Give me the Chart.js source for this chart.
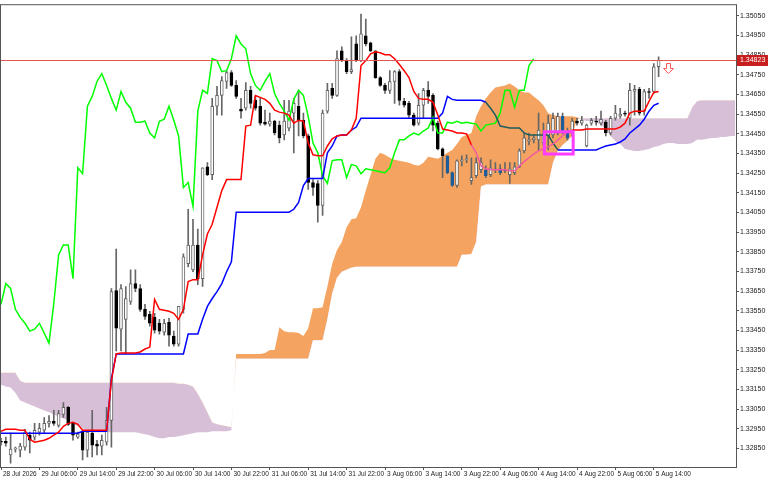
<!DOCTYPE html>
<html>
<head>
<meta charset="utf-8">
<title>H1 Ichimoku</title>
<script src="https://cdn.jsdelivr.net/npm/chart.js@4.4.1/dist/chart.umd.min.js"></script>
<style>
  html, body { margin: 0; padding: 0; background: #fff; }
  #wrap { width: 768px; height: 480px; }
</style>
</head>
<body>
<div id="wrap"><canvas id="ichimokuChart" width="768" height="480"></canvas></div>
<script>
// hourly bars, 28 Jul 22:00 -> 5 Aug 15:00 (bar index = x value)
const opens = [
  1.32886, 1.32886, 1.32816, 1.32846, 1.32841, 1.32856, 1.32917, 1.32907, 1.32932, 1.32942,
  1.32977, 1.32987, 1.32967, 1.33022, 1.33058, 1.32977, 1.32907, 1.32932, 1.32841, 1.32927,
  1.32871, 1.32861, 1.32881, 1.32992, 1.33652, 1.33456, 1.33506, 1.33597, 1.33688, 1.33663,
  1.33557, 1.33531, 1.33516, 1.33486, 1.33441, 1.33491, 1.33421, 1.33380, 1.33557, 1.33789,
  1.33758, 1.33884, 1.33713, 1.34282, 1.34242, 1.34590, 1.34645, 1.34716, 1.34761, 1.34696,
  1.34575, 1.34580, 1.34671, 1.34620, 1.34590, 1.34509, 1.34499, 1.34514, 1.34494, 1.34444,
  1.34479, 1.34555, 1.34590, 1.34519, 1.34439, 1.34202, 1.34197, 1.34086, 1.34565, 1.34681,
  1.34645, 1.34872, 1.34822, 1.34766, 1.34907, 1.34822, 1.34948, 1.34912, 1.34872, 1.34736,
  1.34696, 1.34671, 1.34716, 1.34766, 1.34615, 1.34605, 1.34545, 1.34504, 1.34595, 1.34671,
  1.34645, 1.34504, 1.34373, 1.34338, 1.34252, 1.34187, 1.34313, 1.34318, 1.34212, 1.34237,
  1.34267, 1.34267, 1.34242, 1.34267, 1.34272, 1.34267, 1.34242, 1.34252, 1.34282, 1.34363,
  1.34413, 1.34419, 1.34419, 1.34403, 1.34439, 1.34444, 1.34454, 1.34539, 1.34464, 1.34454,
  1.34514, 1.34504, 1.34388, 1.34504, 1.34514, 1.34504, 1.34509, 1.34454, 1.34529, 1.34539,
  1.34555, 1.34529, 1.34665, 1.34676, 1.34565, 1.34665, 1.34665, 1.34791
];
const highs = [
  1.32901, 1.32907, 1.32927, 1.32856, 1.32876, 1.32947, 1.32932, 1.32977, 1.32977, 1.33007,
  1.33017, 1.33043, 1.33043, 1.33083, 1.33063, 1.32982, 1.32932, 1.32942, 1.32942, 1.33043,
  1.32891, 1.32917, 1.33058, 1.33663, 1.33864, 1.33683, 1.33673, 1.33758, 1.33758, 1.33683,
  1.33582, 1.33547, 1.33537, 1.33506, 1.33506, 1.33511, 1.33446, 1.33572, 1.33839, 1.34066,
  1.34015, 1.33965, 1.34277, 1.34303, 1.34630, 1.34691, 1.34741, 1.34771, 1.34771, 1.34721,
  1.34630, 1.34711, 1.34691, 1.34640, 1.34630, 1.34570, 1.34555, 1.34519, 1.34514, 1.34620,
  1.34620, 1.34630, 1.34671, 1.34555, 1.34449, 1.34217, 1.34212, 1.34570, 1.34706, 1.34706,
  1.34872, 1.34892, 1.34832, 1.34943, 1.34948, 1.35059, 1.35033, 1.34917, 1.34872, 1.34741,
  1.34706, 1.34771, 1.34771, 1.34776, 1.34630, 1.34615, 1.34555, 1.34655, 1.34681, 1.34716,
  1.34655, 1.34514, 1.34378, 1.34338, 1.34257, 1.34318, 1.34338, 1.34343, 1.34328, 1.34328,
  1.34328, 1.34287, 1.34318, 1.34303, 1.34293, 1.34303, 1.34303, 1.34303, 1.34373, 1.34454,
  1.34454, 1.34444, 1.34555, 1.34504, 1.34545, 1.34555, 1.34555, 1.34555, 1.34479, 1.34529,
  1.34529, 1.34539, 1.34499, 1.34529, 1.34539, 1.34565, 1.34519, 1.34539, 1.34595, 1.34580,
  1.34565, 1.34706, 1.34696, 1.34686, 1.34676, 1.34681, 1.34807, 1.34842
];
const lows = [
  1.32866, 1.32861, 1.32775, 1.32831, 1.32806, 1.32841, 1.32826, 1.32891, 1.32917, 1.32927,
  1.32957, 1.32967, 1.32957, 1.33007, 1.32967, 1.32891, 1.32901, 1.32791, 1.32806, 1.32806,
  1.32816, 1.32816, 1.32866, 1.32856, 1.33345, 1.33345, 1.33330, 1.33582, 1.33647, 1.33547,
  1.33506, 1.33471, 1.33436, 1.33431, 1.33426, 1.33370, 1.33370, 1.33370, 1.33537, 1.33773,
  1.33748, 1.33683, 1.33673, 1.34237, 1.34217, 1.34545, 1.34545, 1.34681, 1.34691, 1.34630,
  1.34529, 1.34570, 1.34580, 1.34570, 1.34494, 1.34494, 1.34489, 1.34444, 1.34403, 1.34419,
  1.34464, 1.34353, 1.34439, 1.34429, 1.34167, 1.34136, 1.34000, 1.34035, 1.34555, 1.34630,
  1.34640, 1.34817, 1.34756, 1.34756, 1.34817, 1.34817, 1.34897, 1.34867, 1.34731, 1.34691,
  1.34655, 1.34655, 1.34605, 1.34595, 1.34585, 1.34529, 1.34489, 1.34494, 1.34529, 1.34605,
  1.34464, 1.34368, 1.34227, 1.34247, 1.34182, 1.34177, 1.34287, 1.34303, 1.34192, 1.34227,
  1.34252, 1.34227, 1.34232, 1.34252, 1.34242, 1.34252, 1.34197, 1.34242, 1.34277, 1.34353,
  1.34393, 1.34403, 1.34368, 1.34393, 1.34368, 1.34429, 1.34444, 1.34449, 1.34419, 1.34439,
  1.34494, 1.34494, 1.34383, 1.34494, 1.34494, 1.34494, 1.34439, 1.34444, 1.34519, 1.34529,
  1.34539, 1.34494, 1.34545, 1.34545, 1.34545, 1.34630, 1.34655, 1.34741
];
const closes = [
  1.32881, 1.32876, 1.32846, 1.32851, 1.32861, 1.32932, 1.32891, 1.32942, 1.32952, 1.32977,
  1.32987, 1.32977, 1.33027, 1.33058, 1.32972, 1.32917, 1.32922, 1.32841, 1.32932, 1.32866,
  1.32861, 1.32891, 1.32992, 1.33647, 1.33461, 1.33663, 1.33612, 1.33688, 1.33663, 1.33557,
  1.33521, 1.33486, 1.33451, 1.33446, 1.33486, 1.33426, 1.33380, 1.33572, 1.33824, 1.33884,
  1.33884, 1.33713, 1.34277, 1.34242, 1.34590, 1.34645, 1.34721, 1.34761, 1.34696, 1.34640,
  1.34565, 1.34671, 1.34605, 1.34580, 1.34504, 1.34499, 1.34514, 1.34454, 1.34429, 1.34514,
  1.34565, 1.34605, 1.34519, 1.34439, 1.34202, 1.34177, 1.34086, 1.34555, 1.34671, 1.34645,
  1.34832, 1.34822, 1.34766, 1.34776, 1.34822, 1.34958, 1.34907, 1.34872, 1.34736, 1.34696,
  1.34671, 1.34716, 1.34766, 1.34620, 1.34595, 1.34545, 1.34494, 1.34595, 1.34671, 1.34640,
  1.34494, 1.34373, 1.34338, 1.34252, 1.34187, 1.34313, 1.34318, 1.34323, 1.34227, 1.34303,
  1.34303, 1.34237, 1.34277, 1.34272, 1.34252, 1.34262, 1.34272, 1.34282, 1.34363, 1.34429,
  1.34419, 1.34429, 1.34469, 1.34444, 1.34504, 1.34529, 1.34539, 1.34454, 1.34429, 1.34514,
  1.34504, 1.34519, 1.34494, 1.34519, 1.34509, 1.34524, 1.34454, 1.34529, 1.34555, 1.34550,
  1.34550, 1.34671, 1.34676, 1.34555, 1.34665, 1.34660, 1.34791, 1.34823
];

// Ichimoku lines
const tenkan = [
  1.32937, 1.32947, 1.32947, 1.32947, 1.32942, 1.32942, 1.32896, 1.32881, 1.32886, 1.32891,
  1.32901, 1.32917, 1.32932, 1.32962, 1.32977, 1.32982, 1.32972, 1.32942, 1.32942, 1.32942,
  1.32942, 1.32942, 1.32942, 1.33194, 1.33330, 1.33335, 1.33335, 1.33335, 1.33335, 1.33340,
  1.33355, 1.33365, 1.33607, 1.33557, 1.33552, 1.33547, 1.33537, 1.33506, 1.33557, 1.33698,
  1.33708, 1.33708, 1.33834, 1.33940, 1.33990, 1.34076, 1.34161, 1.34217, 1.34217, 1.34217,
  1.34217, 1.34489, 1.34494, 1.34645, 1.34635, 1.34625, 1.34605, 1.34570, 1.34560, 1.34555,
  1.34545, 1.34504, 1.34519, 1.34514, 1.34403, 1.34343, 1.34338, 1.34338, 1.34388, 1.34424,
  1.34439, 1.34444, 1.34444, 1.34469, 1.34529, 1.34797, 1.34822, 1.34857, 1.34867, 1.34862,
  1.34852, 1.34852, 1.34832, 1.34802, 1.34771, 1.34736, 1.34665, 1.34630, 1.34625, 1.34625,
  1.34610, 1.34545, 1.34474, 1.34469, 1.34464, 1.34454, 1.34454, 1.34449, 1.34393, 1.34353,
  1.34287, 1.34272, 1.34267, 1.34267, 1.34267, 1.34267, 1.34262, 1.34262, 1.34287, 1.34308,
  1.34328, 1.34348, 1.34363, 1.34373, 1.34383, 1.34398, 1.34419, 1.34439, 1.34459, 1.34469,
  1.34469, 1.34469, 1.34474, 1.34474, 1.34474, 1.34474, 1.34474, 1.34474, 1.34474, 1.34484,
  1.34504, 1.34555, 1.34565, 1.34565, 1.34565, 1.34615, 1.34660, 1.34665
];
const kijun = [
  1.32927, 1.32927, 1.32927, 1.32927, 1.32927, 1.32927, 1.32927, 1.32927, 1.32927, 1.32927,
  1.32927, 1.32927, 1.32927, 1.32927, 1.32927, 1.32927, 1.32927, 1.32937, 1.32937, 1.32937,
  1.32937, 1.32937, 1.32937, 1.33204, 1.33330, 1.33330, 1.33330, 1.33330, 1.33330, 1.33330,
  1.33330, 1.33330, 1.33330, 1.33330, 1.33330, 1.33330, 1.33330, 1.33330, 1.33330, 1.33431,
  1.33431, 1.33431, 1.33506, 1.33572, 1.33612, 1.33647, 1.33688, 1.33748, 1.33799, 1.34051,
  1.34051, 1.34051, 1.34051, 1.34051, 1.34051, 1.34051, 1.34051, 1.34051, 1.34051, 1.34051,
  1.34051, 1.34066, 1.34101, 1.34187, 1.34222, 1.34222, 1.34222, 1.34222, 1.34353, 1.34388,
  1.34439, 1.34444, 1.34444, 1.34469, 1.34484, 1.34529, 1.34529, 1.34529, 1.34529, 1.34529,
  1.34529, 1.34529, 1.34529, 1.34529, 1.34529, 1.34529, 1.34529, 1.34529, 1.34529, 1.34529,
  1.34529, 1.34529, 1.34555, 1.34640, 1.34625, 1.34620, 1.34620, 1.34620, 1.34620, 1.34620,
  1.34620, 1.34610, 1.34580, 1.34545, 1.34489, 1.34484, 1.34479, 1.34479, 1.34479, 1.34454,
  1.34444, 1.34444, 1.34444, 1.34444, 1.34444, 1.34403, 1.34368, 1.34368, 1.34368, 1.34368,
  1.34368, 1.34368, 1.34368, 1.34368, 1.34368, 1.34378, 1.34388, 1.34393, 1.34398, 1.34408,
  1.34424, 1.34454, 1.34474, 1.34494, 1.34524, 1.34565, 1.34595, 1.34605
];
// lagging span, drawn from bar 0 (already 26 bars back)
const chikou = [
  1.33582, 1.33688, 1.33663, 1.33557, 1.33516, 1.33486, 1.33446, 1.33456, 1.33486, 1.33436,
  1.33385, 1.33587, 1.33834, 1.33884, 1.33884, 1.33713, 1.34277, 1.34247, 1.34590, 1.34640,
  1.34716, 1.34756, 1.34696, 1.34630, 1.34570, 1.34665, 1.34610, 1.34580, 1.34509, 1.34509,
  1.34514, 1.34454, 1.34429, 1.34514, 1.34524, 1.34590, 1.34519, 1.34439, 1.34177, 1.34202,
  1.34081, 1.34565, 1.34671, 1.34655, 1.34832, 1.34822, 1.34766, 1.34771, 1.34832, 1.34948,
  1.34907, 1.34882, 1.34756, 1.34696, 1.34671, 1.34716, 1.34756, 1.34655, 1.34605, 1.34565,
  1.34519, 1.34625, 1.34671, 1.34645, 1.34539, 1.34403, 1.34353, 1.34237, 1.34197, 1.34313,
  1.34318, 1.34318, 1.34227, 1.34293, 1.34287, 1.34247, 1.34272, 1.34267, 1.34262, 1.34257,
  1.34252, 1.34277, 1.34353, 1.34419, 1.34419, 1.34439, 1.34454, 1.34444, 1.34464, 1.34479,
  1.34534, 1.34454, 1.34454, 1.34509, 1.34504, 1.34514, 1.34504, 1.34509, 1.34504, 1.34499,
  1.34464, 1.34494, 1.34499, 1.34504, 1.34555, 1.34671, 1.34671, 1.34585, 1.34671, 1.34671,
  1.34797, 1.34832
];
// leading spans, run 16 bars past the last candle
const spanA = [
  1.33174, 1.33164, 1.33159, 1.33133, 1.33093, 1.33083, 1.33073, 1.33063, 1.33053, 1.33043,
  1.33033, 1.33022, 1.33012, 1.33002, 1.32992, 1.32977, 1.32962, 1.32952, 1.32937, 1.32932,
  1.32932, 1.32932, 1.32932, 1.32932, 1.32932, 1.32932, 1.32932, 1.32932, 1.32932, 1.32927,
  1.32922, 1.32917, 1.32907, 1.32901, 1.32901, 1.32907, 1.32907, 1.32912, 1.32917, 1.32922,
  1.32927, 1.32932, 1.32932, 1.32932, 1.32937, 1.32937, 1.32937, 1.32937, 1.32942, 1.33330,
  1.33330, 1.33330, 1.33330, 1.33330, 1.33330, 1.33335, 1.33350, 1.33350, 1.33466, 1.33446,
  1.33441, 1.33441, 1.33436, 1.33421, 1.33461, 1.33562, 1.33562, 1.33567, 1.33673, 1.33789,
  1.33859, 1.33899, 1.33975, 1.34015, 1.34020, 1.34076, 1.34161, 1.34242, 1.34323, 1.34353,
  1.34343, 1.34328, 1.34318, 1.34313, 1.34308, 1.34303, 1.34293, 1.34287, 1.34303, 1.34333,
  1.34328, 1.34323, 1.34338, 1.34353, 1.34368, 1.34398, 1.34434, 1.34444, 1.34454, 1.34539,
  1.34590, 1.34630, 1.34660, 1.34686, 1.34691, 1.34696, 1.34706, 1.34691, 1.34671, 1.34660,
  1.34660, 1.34640, 1.34620, 1.34595, 1.34555, 1.34545, 1.34539, 1.34539, 1.34539, 1.34539,
  1.34534, 1.34524, 1.34514, 1.34519, 1.34509, 1.34494, 1.34474, 1.34439, 1.34413, 1.34398,
  1.34373, 1.34368, 1.34363, 1.34363, 1.34368, 1.34373, 1.34383, 1.34388, 1.34398, 1.34403,
  1.34403, 1.34398, 1.34398, 1.34398, 1.34403, 1.34419, 1.34419, 1.34424, 1.34429, 1.34429,
  1.34434, 1.34434, 1.34439, 1.34439
];
const spanB = [
  1.33234, 1.33234, 1.33234, 1.33234, 1.33194, 1.33184, 1.33184, 1.33184, 1.33184, 1.33184,
  1.33184, 1.33184, 1.33184, 1.33184, 1.33184, 1.33184, 1.33184, 1.33184, 1.33184, 1.33184,
  1.33184, 1.33184, 1.33184, 1.33184, 1.33184, 1.33184, 1.33184, 1.33184, 1.33184, 1.33184,
  1.33184, 1.33184, 1.33184, 1.33184, 1.33184, 1.33184, 1.33184, 1.33179, 1.33179, 1.33174,
  1.33164, 1.33128, 1.33083, 1.33033, 1.32982, 1.32972, 1.32967, 1.32962, 1.32957, 1.33305,
  1.33305, 1.33305, 1.33305, 1.33305, 1.33305, 1.33305, 1.33305, 1.33305, 1.33305, 1.33305,
  1.33305, 1.33305, 1.33305, 1.33305, 1.33305, 1.33400, 1.33400, 1.33400, 1.33506, 1.33637,
  1.33718, 1.33748, 1.33758, 1.33768, 1.33773, 1.33773, 1.33773, 1.33773, 1.33773, 1.33773,
  1.33773, 1.33773, 1.33773, 1.33773, 1.33773, 1.33773, 1.33773, 1.33773, 1.33773, 1.33773,
  1.33773, 1.33773, 1.33773, 1.33773, 1.33773, 1.33773, 1.33834, 1.33834, 1.33839, 1.33899,
  1.34182, 1.34192, 1.34192, 1.34192, 1.34192, 1.34192, 1.34192, 1.34192, 1.34192, 1.34192,
  1.34192, 1.34192, 1.34192, 1.34192, 1.34192, 1.34303, 1.34363, 1.34393, 1.34413, 1.34439,
  1.34524, 1.34529, 1.34529, 1.34529, 1.34529, 1.34529, 1.34529, 1.34529, 1.34529, 1.34529,
  1.34529, 1.34529, 1.34529, 1.34529, 1.34529, 1.34529, 1.34529, 1.34529, 1.34529, 1.34529,
  1.34529, 1.34529, 1.34529, 1.34529, 1.34585, 1.34615, 1.34620, 1.34620, 1.34620, 1.34620,
  1.34620, 1.34620, 1.34620, 1.34620
];

const xTickBars = [0, 8, 16, 24, 32, 40, 48, 56, 64, 72, 80, 88, 96, 104, 112, 120, 128, 136];
const xTickLabels = [
  '28 Jul 2026', '29 Jul 06:00', '29 Jul 14:00', '29 Jul 22:00', '30 Jul 06:00', '30 Jul 14:00',
  '30 Jul 22:00', '31 Jul 06:00', '31 Jul 14:00', '31 Jul 22:00', '3 Aug 06:00', '3 Aug 14:00',
  '3 Aug 22:00', '4 Aug 06:00', '4 Aug 14:00', '4 Aug 22:00', '5 Aug 06:00', '5 Aug 14:00'
];
const yTicks = [
  1.32850, 1.32950, 1.33050, 1.33150, 1.33250, 1.33350, 1.33450, 1.33550, 1.33650, 1.33750,
  1.33850, 1.33950, 1.34050, 1.34150, 1.34250, 1.34350, 1.34450, 1.34550, 1.34650, 1.34750,
  1.34850, 1.34950, 1.35050
];
const lastPrice = 1.34823;
const zoneBox = { fromBar: 113.2, toBar: 119.2, high: 1.34460, low: 1.34347 };
const sellArrow = { bar: 139, price: 1.34811 };

const ORANGE = '#f4a460';
const LILAC = '#d8bfd8';
const FONT_Y = { family: 'Liberation Sans', size: 7 };
const FONT_X = { family: 'Liberation Sans', size: 6.5 };

const toPoints = arr => arr.map((v, i) => ({ x: i, y: v }));

// true when a value sits inside the bullish (orange) part of the cloud
function inOrangeCloud(i, v) {
    const a = spanA[i], b = spanB[i];
    return a > b && v < a && v > b;
}

function cloudSegment(series, normal, tinted) {
    return ctx => (inOrangeCloud(ctx.p0DataIndex, series[ctx.p0DataIndex]) &&
                   inOrangeCloud(ctx.p1DataIndex, series[ctx.p1DataIndex])) ? tinted : normal;
}

function bodyColor(ctx, bullColor) {
    const i = ctx.dataIndex;
    if (i === undefined) return '#000';
    if (closes[i] >= opens[i]) return bullColor;
    return inOrangeCloud(i, (opens[i] + closes[i]) / 2) ? '#1d5c9b' : '#000000';
}

const bodies = opens.map((o, i) => ({ x: i, y: [o, closes[i]] }));
const wicks = opens.map((o, i) => ({ x: i, y: [lows[i], highs[i]] }));

const overlays = {
    id: 'overlays',
    afterDatasetsDraw(chart) {
        const { ctx, chartArea: a, scales: { x, y } } = chart;
        ctx.save();
        ctx.beginPath();
        ctx.rect(a.left, a.top, a.width, a.height);
        ctx.clip();

        // bid line
        const py = Math.round(y.getPixelForValue(lastPrice)) + 0.5;
        ctx.strokeStyle = '#e05555';
        ctx.lineWidth = 1;
        ctx.beginPath();
        ctx.moveTo(a.left, py);
        ctx.lineTo(a.right, py);
        ctx.stroke();

        // magenta zone
        const x0 = x.getPixelForValue(zoneBox.fromBar), x1 = x.getPixelForValue(zoneBox.toBar);
        const y0 = y.getPixelForValue(zoneBox.high), y1 = y.getPixelForValue(zoneBox.low);
        ctx.strokeStyle = '#ff3cff';
        ctx.lineWidth = 3;
        ctx.strokeRect(x0, y0, x1 - x0, y1 - y0);

        // hollow sell arrow
        const cx = Math.round(x.getPixelForValue(sellArrow.bar)) + 0.5;
        const top = Math.round(y.getPixelForValue(sellArrow.price)) + 0.5;
        ctx.beginPath();
        ctx.moveTo(cx - 2, top);
        ctx.lineTo(cx + 2, top);
        ctx.lineTo(cx + 2, top + 5);
        ctx.lineTo(cx + 5, top + 5);
        ctx.lineTo(cx, top + 10);
        ctx.lineTo(cx - 5, top + 5);
        ctx.lineTo(cx - 2, top + 5);
        ctx.closePath();
        ctx.fillStyle = '#ffffff';
        ctx.fill();
        ctx.strokeStyle = '#ff5a5a';
        ctx.lineWidth = 1;
        ctx.stroke();
        ctx.restore();
    },
    afterDraw(chart) {
        const { ctx, chartArea: a, scales: { y } } = chart;
        ctx.save();
        ctx.strokeStyle = '#555';
        ctx.lineWidth = 1;
        ctx.strokeRect(a.left - 0.5, a.top - 0.5, a.width + 1, a.height + 1);

        // price tag on the axis
        const py = Math.round(y.getPixelForValue(lastPrice));
        ctx.fillStyle = '#c81e1e';
        ctx.fillRect(a.right + 1, py - 5, chart.width - a.right - 1, 11);
        ctx.fillStyle = '#ffffff';
        ctx.font = '7px "Liberation Sans"';
        ctx.textBaseline = 'middle';
        ctx.fillText(lastPrice.toFixed(5), a.right + 4, py + 0.5);
        ctx.restore();
    }
};

new Chart(document.getElementById('ichimokuChart'), {
    type: 'bar',
    data: {
        datasets: [
            {
                type: 'line', label: 'Senkou Span A', data: toPoints(spanA),
                borderWidth: 0, borderColor: 'rgba(0,0,0,0)', pointRadius: 0,
                fill: { target: 1, above: ORANGE, below: LILAC }, order: 10
            },
            {
                type: 'line', label: 'Senkou Span B', data: toPoints(spanB),
                borderWidth: 0, borderColor: 'rgba(0,0,0,0)', pointRadius: 0,
                fill: false, order: 9
            },
            {
                type: 'bar', label: 'Wicks', data: wicks, grouped: false,
                barThickness: 1, backgroundColor: '#666666', borderWidth: 0, order: 4
            },
            {
                type: 'bar', label: 'Bodies', data: bodies, grouped: false,
                barThickness: 3, minBarLength: 1, borderWidth: 1, borderSkipped: false,
                backgroundColor: ctx => bodyColor(ctx, '#ffffff'),
                borderColor: ctx => bodyColor(ctx, '#666666'),
                order: 3
            },
            {
                type: 'line', label: 'Chikou Span', data: toPoints(chikou),
                borderColor: '#00ff00', borderWidth: 1.5, pointRadius: 0, order: 2
            },
            {
                type: 'line', label: 'Kijun-sen', data: toPoints(kijun),
                borderColor: '#0000ff', borderWidth: 1.5, pointRadius: 0, order: 1,
                segment: { borderColor: cloudSegment(kijun, '#0000ff', '#1f5c5c') }
            },
            {
                type: 'line', label: 'Tenkan-sen', data: toPoints(tenkan),
                borderColor: '#ff0000', borderWidth: 1.5, pointRadius: 0, order: 0,
                segment: { borderColor: cloudSegment(tenkan, '#ff0000', '#f45b9f') }
            }
        ]
    },
    options: {
        responsive: false,
        animation: false,
        events: [],
        layout: { padding: { left: 1, top: 1, right: 0, bottom: 0 } },
        plugins: {
            legend: { display: false },
            tooltip: { enabled: false }
        },
        scales: {
            x: {
                type: 'linear', min: 0, max: 153.125, offset: false,
                afterBuildTicks: s => { s.ticks = xTickBars.map(v => ({ value: v })); },
                afterFit: s => { s.height = 13; },
                ticks: {
                    autoSkip: false, maxRotation: 0, align: 'start', padding: 0, labelOffset: 2,
                    font: FONT_X, color: '#222',
                    callback: (v, i) => xTickLabels[i]
                },
                grid: { drawOnChartArea: false, drawTicks: true, tickLength: 3, color: '#555', offset: false },
                border: { display: true, color: '#555' }
            },
            y: {
                type: 'linear', position: 'right', min: 1.32755, max: 1.35104,
                afterBuildTicks: s => { s.ticks = yTicks.map(v => ({ value: v })); },
                afterFit: s => { s.width = 32; },
                ticks: {
                    padding: 1, font: FONT_Y, color: '#222',
                    callback: v => v.toFixed(5)
                },
                grid: { drawOnChartArea: false, drawTicks: true, tickLength: 3, color: '#555' },
                border: { display: true, color: '#555' }
            }
        }
    },
    plugins: [overlays]
});
</script>
</body>
</html>
